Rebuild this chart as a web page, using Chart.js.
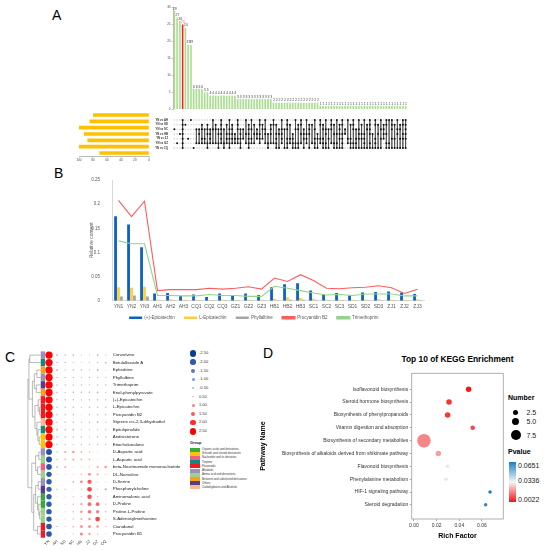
<!DOCTYPE html>
<html>
<head>
<meta charset="utf-8">
<title>Figure</title>
<script src="https://cdn.jsdelivr.net/npm/chart.js@4.4.1/dist/chart.umd.min.js"></script>
<style>
  body { margin: 0; background: #fff; font-family: "Liberation Sans", Arial, sans-serif; }
  #page { position: relative; width: 547px; height: 550px; overflow: hidden; }
  .box { position: absolute; }
  .txt { position: absolute; white-space: nowrap; line-height: 1; color: #222; }
  .letter { position: absolute; font-size: 14px; line-height: 1; color: #000; }
</style>
</head>
<body>
<div id="page">
  <div class="letter" style="left:52px;top:8px">A</div>
  <div class="letter" style="left:54px;top:166px">B</div>
  <div class="letter" style="left:5px;top:350px">C</div>
  <div class="letter" style="left:263px;top:346px">D</div>

  <div class="box" style="left:150px;top:0;width:260px;height:112px"><canvas id="upsetBars"></canvas></div>
  <div class="box" style="left:150px;top:111px;width:260px;height:46px"><canvas id="upsetMatrix"></canvas></div>
  <div class="box" style="left:75px;top:111px;width:77px;height:58px"><canvas id="setSizes"></canvas></div>
  <div class="box" style="left:88px;top:172px;width:345px;height:158px"><canvas id="content"></canvas></div>
  <div class="box" style="left:22px;top:345px;width:160px;height:205px"><canvas id="dots"></canvas></div>
  <div class="box" style="left:256px;top:365px;width:249px;height:180px"><canvas id="kegg"></canvas></div>
  <div class="txt" style="left:397px;top:355px;width:121px;text-align:center;font-size:8.4px;font-weight:bold;color:#000">Top 10 of KEGG Enrichment</div>
</div>

<script>
// ---- A: upset plot ----
var setNames = ['YN vs AH', 'YN vs SD', 'YN vs SC', 'YN vs HB', 'YN vs ZJ', 'YN vs GZ', 'YN vs CQ'];
var setSizes = [80, 85, 101, 93, 88, 100, 71];
var comboCounts = [29, 27, 26, 25, 24, 19, 19, 6, 6, 6, 6, 5, 5,
  4, 4, 4, 4, 4, 4, 4, 4, 4, 4,
  3, 3, 3, 3, 3, 3, 3, 3, 3, 3, 3, 3, 3,
  2, 2, 2, 2, 2, 2, 2, 2, 2, 2, 2, 2, 2, 2, 2, 2, 2,
  1, 1, 1, 1, 1, 1, 1, 1, 1, 1, 1, 1, 1, 1, 1, 1,
  1, 1, 1, 1, 1, 1, 1, 1, 1, 1, 1, 1, 1, 1, 1, 1];
// one string per bar, one character per set (AH SD SC HB ZJ GZ CQ)
var comboSets = ['0010000', '0000010', '0001000', '1111111', '0100000', '0000100', '1000000',
  '0000001', '0010010', '0011010', '0110110', '0010110', '0111011',
  '0011110', '1010010', '0110010', '0011011', '1111110', '0010011', '0101110', '1011111', '0111110', '0001110',
  '1110110', '0011111', '0010100', '1001010', '0111111', '1010110', '0101010', '0011100', '1101110', '0110100',
  '1011010', '0001011', '0111010',
  '1100010', '0101111', '0011001', '1011110', '0010001', '1110111', '0100110', '0001111', '1010011', '0110011',
  '1101010', '0011101', '1001110', '0111001', '0100010', '1010111', '0001101',
  '1100110', '0110111', '1011011', '0010101', '1110010', '0101011', '1001011', '0111101', '1101111', '0011000',
  '1000110', '0100111', '1110011', '0010111', '1011101', '0101101', '1001111', '0110001', '1111011', '0001001',
  '1100111', '0101001', '1010101', '0111100', '1101011', '1000011', '1110101', '0100101', '1011001', '0110101',
  '1101101', '1111101'];
var highlightCombo = 3;

// ---- B: relative content ----
var sampleNames = ['YN1', 'YN2', 'YN3', 'AH1', 'AH2', 'AH3', 'CQ1', 'CQ2', 'CQ3', 'GZ1', 'GZ2', 'GZ3',
  'HB1', 'HB2', 'HB3', 'SC1', 'SC2', 'SC3', 'SD1', 'SD2', 'SD3', 'ZJ1', 'ZJ2', 'ZJ3'];
var epicatechinPlus = [0.175, 0.158, 0.111, 0.015, 0.016, 0.010, 0.013, 0.008, 0.015, 0.012, 0.015, 0.012,
  0.028, 0.034, 0.036, 0.021, 0.013, 0.016, 0.011, 0.017, 0.018, 0.019, 0.017, 0.014];
var epicatechinL = [0.028, 0.027, 0.029, 0.002, 0.003, 0.002, 0.002, 0.001, 0.002, 0.001, 0.002, 0.002,
  0.004, 0.007, 0.006, 0.004, 0.002, 0.002, 0.002, 0.002, 0.003, 0.002, 0.002, 0.003];
var phyllalbine = [0.009, 0.011, 0.009, 0.001, 0.001, 0.001, 0.001, 0.001, 0.001, 0.001, 0.001, 0.001,
  0.001, 0.002, 0.002, 0.001, 0.001, 0.001, 0.001, 0.001, 0.001, 0.001, 0.001, 0.001];
var procyanidinB2 = [0.208, 0.174, 0.206, 0.021, 0.023, 0.023, 0.023, 0.026, 0.024, 0.026, 0.029, 0.024,
  0.047, 0.040, 0.054, 0.042, 0.026, 0.025, 0.027, 0.028, 0.031, 0.027, 0.015, 0.024];
var trimethoprim = [0.124, 0.118, 0.118, 0.011, 0.011, 0.010, 0.010, 0.013, 0.011, 0.011, 0.009, 0.009,
  0.030, 0.026, 0.021, 0.016, 0.012, 0.013, 0.011, 0.014, 0.014, 0.014, 0.010, 0.010];

// ---- C: z-score dot plot ----
var sampleGroups = ['YN', 'AH', 'SD', 'SC', 'HB', 'ZJ', 'GZ', 'CQ'];
var compoundNames = ['Convolvine', 'Betulalbuside A', 'Ephedrine', 'Phyllalbine', 'Trimethoprim',
  'Enol-phenylpyruvate', '(+)-Epicatechin', 'L-Epicatechin', 'Procyanidin B2', 'Styrene cis-2,3-dihydrodiol',
  'Epitulipinolide', 'Androsterone', 'Etiocholanolone', 'D-Aspartic acid', 'L-Aspartic acid',
  'beta-Nicotinamide mononucleotide', 'DL-Norvaline', 'D-Serine', 'Phosphorylcholine', 'Aminomalonic acid',
  'D-Proline', 'Proline.L-Proline', 'S-Adenosylmethionine', 'Cianidanol', 'Procyanidin B1'];
var compoundGroups = [5, 3, 7, 5, 8, 7, 4, 4, 4, 9, 3, 1, 1, 5, 6, 2, 6, 5, 8, 0, 0, 6, 6, 4, 4];
var zScores = [
  [2.8, -0.5, -0.4, -0.5, -0.3, -0.2, -0.5, -0.3],
  [2.8, -0.4, -0.4, -0.3, -0.2, -0.3, -0.4, -0.5],
  [2.8, -0.5, -0.3, -0.4, -0.4, -0.3, -0.5, -0.2],
  [2.8, -0.4, -0.4, -0.4, -0.3, -0.4, -0.4, -0.3],
  [2.8, -0.4, -0.4, -0.4, -0.4, -0.3, -0.4, -0.4],
  [2.8, -0.4, -0.3, -0.4, -0.4, -0.4, -0.5, -0.3],
  [2.8, -0.4, -0.4, -0.4, -0.3, -0.4, -0.4, -0.4],
  [2.8, -0.4, -0.4, -0.4, -0.3, -0.4, -0.4, -0.4],
  [2.8, -0.4, -0.4, -0.4, -0.2, -0.4, -0.4, -0.4],
  [2.8, -0.4, -0.4, -0.4, -0.3, -0.4, -0.5, -0.3],
  [2.8, -0.5, -0.4, -0.5, -0.3, -0.3, -0.3, -0.3],
  [2.8, -0.4, -0.4, -0.4, -0.4, -0.3, -0.4, -0.4],
  [2.8, -0.4, -0.4, -0.3, -0.4, -0.4, -0.4, -0.4],
  [-2.2, -0.4, 0.6, 0.8, 0.5, 0.4, 0.2, 0.1],
  [-2.2, -0.4, 0.5, 0.6, 0.5, 0.5, 0.2, 0.1],
  [-2.1, -0.5, 0.6, 0.2, 0.2, 0.3, 0.6, 0.8],
  [-2.0, 0.2, 0.2, 0.2, 0.4, 0.9, 0.6, 0.3],
  [-2.0, 0.1, 0.1, -0.5, 0.9, 1.5, 0.3, 0.2],
  [-1.9, -0.4, -0.3, 0.2, 0.3, 1.7, 0.3, 0.7],
  [-2.0, 0.2, 0.2, 0.3, 0.3, 1.6, 0.4, 0.2],
  [-2.0, 0.1, 0.2, 0.4, 0.7, 1.3, 1.3, 0.3],
  [-2.0, 0.1, 0.2, 0.4, 0.8, 1.2, 1.1, 0.4],
  [-2.0, 0.2, 0.3, 0.4, 0.6, 0.8, 1.7, 0.3],
  [-2.1, -0.4, 0.3, 0.5, 0.9, 0.9, 0.8, 0.4],
  [-2.1, 0.2, 0.2, 0.3, 1.0, 0.7, 0.4, 0.2]
];
// [left, right, merge height]; leaves are row indexes
var dendrogram = [
  [[0, 1, 8.5],
   [[[2, 3, 3], [4, 5, 3.5], 5], [[6, [7, 8, 1], 2], [9, [10, [11, 12, 1.2], 2.2], 3], 4.5], 6.5],
   9.2],
  [[[13, 14, 1.5], [15, 16, 2.5], 4],
   [[[17, 18, 2], [19, [20, [21, 22, 0.8], 1.5], 2.5], 4], [23, 24, 2.5], 5.5],
   7],
  10];
var groupNames = ['Organic acids and derivatives', 'Steroids and steroid derivatives', 'Nucleotide and its derivates',
  'Terpene', 'Flavonoids', 'Alkaloids', 'Amino acid and derivatives', 'Benzene and substituted derivatives',
  'Others', 'Carbohydrates and Alcohols'];
var groupColors = ['#3aa935', '#f7c600', '#ef5f86', '#11897c', '#ee1b24', '#9c90b9', '#9fd18b', '#f6a11c',
  '#5a3a8b', '#f8b98d'];
var zLegendValues = [-2.5, -2.0, -1.5, -1.0, -0.5, 0.5, 1.0, 1.5, 2.0, 2.5];

// ---- D: KEGG enrichment ----
var pathwayNames = ['Isoflavonoid biosynthesis', 'Steroid hormone biosynthesis', 'Biosynthesis of phenylpropanoids',
  'Vitamin digestion and absorption', 'Biosynthesis of secondary metabolites',
  'Biosynthesis of alkaloids derived from shikimate pathway', 'Flavonoid biosynthesis',
  'Phenylalanine metabolism', 'HIF-1 signaling pathway', 'Steroid degradation'];
var richFactor = [0.0482, 0.0309, 0.0297, 0.0518, 0.0088, 0.0215, 0.0297, 0.0282, 0.0671, 0.0632];
var hitNumber = [3, 3, 3, 2, 11, 3, 1, 1, 1, 1];
var pValue = [0.0025, 0.0065, 0.0070, 0.0090, 0.0180, 0.0215, 0.0310, 0.0370, 0.0650, 0.0625];
var richTicks = [0, 0.02, 0.04, 0.06];
var numberTicks = [2.5, 5.0, 7.5];
var pvalueTicks = [0.0651, 0.0336, 0.0022];

Chart.defaults.font.family = '"Liberation Sans", Arial, sans-serif';
Chart.defaults.color = '#333';
Chart.defaults.animation = false;
Chart.defaults.maintainAspectRatio = false;
Chart.defaults.plugins.legend.display = false;
Chart.defaults.plugins.tooltip.enabled = false;

function mix(a, b, t) {
  t = Math.max(0, Math.min(1, t));
  return 'rgb(' + a.map(function (c, k) { return Math.round(c + (b[k] - c) * t); }).join(',') + ')';
}
function dotColor(v) {
  var t = Math.min(Math.abs(v) / 2.5, 1);
  return v < 0 ? mix([205, 216, 238], [8, 60, 155], t) : mix([252, 214, 214], [255, 0, 0], t);
}
function dotRadius(v) { return 0.3 + 1.2 * Math.abs(v); }
function numberRadius(n) { return 1.25 + 0.5 * n; }
function pvalueColor(p) {
  var hi = pvalueTicks[0], mid = pvalueTicks[1], lo = pvalueTicks[2];
  if (p <= mid) return mix([250, 18, 18], [246, 246, 246], (p - lo) / (mid - lo));
  return mix([246, 246, 246], [28, 126, 196], (p - mid) / (hi - mid));
}

var barValueLabels = {
  id: 'barValueLabels',
  afterDatasetsDraw: function (chart) {
    var ctx = chart.ctx, meta = chart.getDatasetMeta(0);
    ctx.save();
    ctx.font = '3.5px "Liberation Sans", Arial';
    ctx.textAlign = 'center';
    ctx.textBaseline = 'bottom';
    meta.data.forEach(function (bar, i) {
      ctx.fillStyle = i === highlightCombo ? '#ff6f6f' : '#444';
      ctx.fillText(comboCounts[i], bar.x + 0.4, bar.y - 0.4);
    });
    ctx.restore();
  }
};

var upsetBars = new Chart(document.getElementById('upsetBars'), {
  type: 'bar',
  data: {
    labels: comboSets,
    datasets: [{
      data: comboCounts,
      backgroundColor: comboCounts.map(function (v, i) { return i === highlightCombo ? '#ff1a1a' : '#aadd90'; }),
      borderColor: comboCounts.map(function (v, i) { return i === highlightCombo ? '#e00000' : '#82c566'; }),
      borderWidth: 0.3,
      barPercentage: 0.75,
      categoryPercentage: 1
    }]
  },
  options: {
    layout: { autoPadding: false, padding: { top: 7.3, right: 3, bottom: 0.3, left: 0 } },
    scales: {
      x: { display: false },
      y: {
        min: 0, max: 30,
        ticks: { stepSize: 5, font: { size: 3 }, padding: 1, color: '#444' },
        grid: { drawOnChartArea: false, tickLength: 1.5, color: '#777', lineWidth: 0.4 },
        border: { color: '#777', width: 0.5 },
        afterFit: function (axis) { axis.width = 23; }
      }
    }
  },
  plugins: [barValueLabels]
});

var matrixGrid = [], matrixHits = [], matrixLinks = [];
comboSets.forEach(function (s, c) {
  var rows = [];
  for (var r = 0; r < setNames.length; r++) {
    matrixGrid.push({ x: c, y: r });
    if (s.charAt(r) === '1') { matrixHits.push({ x: c, y: r }); rows.push(r); }
  }
  if (rows.length > 1) {
    matrixLinks.push({ x: c, y: rows[0] }, { x: c, y: rows[rows.length - 1] }, { x: c, y: null });
  }
});

var upsetMatrix = new Chart(document.getElementById('upsetMatrix'), {
  type: 'scatter',
  data: {
    datasets: [
      { data: matrixHits, pointRadius: 1.0, backgroundColor: '#111', borderWidth: 0 },
      { type: 'line', data: matrixLinks, borderColor: '#333', borderWidth: 0.5, pointRadius: 0, spanGaps: false },
      { data: matrixGrid, pointRadius: 0.9, backgroundColor: '#dedede', borderWidth: 0 }
    ]
  },
  options: {
    layout: { autoPadding: false, padding: { top: 0.83, right: 3, bottom: 0.83, left: 0 } },
    scales: {
      x: { type: 'linear', min: -0.5, max: comboSets.length - 0.5, display: false },
      y: {
        type: 'linear', reverse: true, min: -0.5, max: setNames.length - 0.5,
        afterBuildTicks: function (axis) { axis.ticks = setNames.map(function (n, i) { return { value: i }; }); },
        ticks: { callback: function (v) { return setNames[v]; }, font: { size: 2.8, weight: 'bold' }, color: '#333', padding: 5, autoSkip: false },
        grid: { display: false, drawTicks: false },
        border: { display: false },
        afterFit: function (axis) { axis.width = 23; }
      }
    }
  }
});

var setSizeChart = new Chart(document.getElementById('setSizes'), {
  type: 'bar',
  data: {
    labels: setNames,
    datasets: [{ data: setSizes, backgroundColor: '#ffc000', barPercentage: 0.58, categoryPercentage: 1 }]
  },
  options: {
    indexAxis: 'y',
    layout: { autoPadding: false, padding: { top: 0.83, left: 4, right: 3, bottom: 0 } },
    scales: {
      y: { display: false },
      x: {
        reverse: true, min: 0, max: 100,
        ticks: { stepSize: 20, font: { size: 3 }, padding: 1, maxRotation: 0, color: '#444' },
        grid: { drawOnChartArea: false, tickLength: 1.5, color: '#777', lineWidth: 0.4 },
        border: { color: '#777', width: 0.5 },
        afterFit: function (axis) { axis.height = 12.84; }
      }
    }
  }
});

// ---- B ----
var contentChart = new Chart(document.getElementById('content'), {
  type: 'bar',
  data: {
    labels: sampleNames,
    datasets: [
      { label: '(+)-Epicatechin', data: epicatechinPlus, backgroundColor: '#0a62c2' },
      { label: 'L-Epicatechin', data: epicatechinL, backgroundColor: '#ffcd3c' },
      { label: 'Phyllalbine', data: phyllalbine, backgroundColor: '#a5a5a5' },
      { type: 'line', label: 'Procyanidin B2', data: procyanidinB2, borderColor: '#ff5d5d', backgroundColor: '#ff5d5d',
        borderWidth: 1.1, pointRadius: 0, order: -1 },
      { type: 'line', label: 'Trimethoprim', data: trimethoprim, borderColor: '#93d38e', backgroundColor: '#93d38e',
        borderWidth: 1.1, pointRadius: 0, order: -1 }
    ]
  },
  options: {
    layout: { autoPadding: false, padding: { top: 8, right: 9, bottom: 0, left: 0 } },
    datasets: { bar: { categoryPercentage: 0.68, barPercentage: 0.95 } },
    plugins: {
      legend: {
        display: true, position: 'bottom',
        labels: {
          boxWidth: 13, boxHeight: 2.5, font: { size: 4.5 }, color: '#595959', padding: 4.75,
          generateLabels: function (chart) {
            return Chart.defaults.plugins.legend.labels.generateLabels(chart).map(function (item) {
              item.text = item.text + '\u2003';
              return item;
            });
          },
          sort: function (a, b) { return a.datasetIndex - b.datasetIndex; }
        }
      }
    },
    scales: {
      x: {
        display: true,
        grid: { display: false, drawTicks: false },
        border: { display: true, color: '#d9d9d9' },
        ticks: { display: true, font: { size: 5 }, color: '#595959', padding: 3, minRotation: 0, maxRotation: 0, autoSkip: false },
        afterFit: function (axis) { axis.height = 10; }
      },
      y: {
        min: 0, max: 0.25,
        ticks: {
          stepSize: 0.05, font: { size: 4.5 }, color: '#595959', padding: 4,
          callback: function (v) { return v === 0 ? '0' : String(+v.toFixed(2)); }
        },
        grid: { display: false },
        border: { color: '#d9d9d9' },
        title: { display: true, text: 'Relative content', font: { size: 5 }, color: '#595959', padding: { top: 1, bottom: 0 } },
        afterFit: function (axis) { axis.width = 24; }
      }
    }
  }
});

// ---- C ----
var dotCells = [];
zScores.forEach(function (row, r) {
  row.forEach(function (v, c) { dotCells.push({ x: c, y: r, v: v }); });
});

var heatDecor = {
  id: 'heatDecor',
  beforeDatasetsDraw: function (chart) {
    var xs = chart.scales.x, ys = chart.scales.y, ctx = chart.ctx;
    var leafX = -1.02;
    ctx.save();
    compoundGroups.forEach(function (g, r) {
      var y0 = ys.getPixelForValue(r - 0.5), y1 = ys.getPixelForValue(r + 0.5);
      var x0 = xs.getPixelForValue(leafX), x1 = xs.getPixelForValue(-0.49);
      ctx.fillStyle = groupColors[g];
      ctx.fillRect(x0, Math.min(y0, y1), x1 - x0, Math.abs(y1 - y0));
    });
    ctx.strokeStyle = '#8a8a8a';
    ctx.lineWidth = 0.6;
    function walk(node) {
      if (typeof node === 'number') return { x: leafX, y: node };
      var a = walk(node[0]), b = walk(node[1]);
      var h = leafX - node[2] * 0.158;
      var px = xs.getPixelForValue(h);
      ctx.beginPath();
      ctx.moveTo(xs.getPixelForValue(a.x), ys.getPixelForValue(a.y));
      ctx.lineTo(px, ys.getPixelForValue(a.y));
      ctx.lineTo(px, ys.getPixelForValue(b.y));
      ctx.lineTo(xs.getPixelForValue(b.x), ys.getPixelForValue(b.y));
      ctx.stroke();
      return { x: h, y: (a.y + b.y) / 2 };
    }
    walk(dendrogram);
    ctx.restore();
  }
};

var dotChart = new Chart(document.getElementById('dots'), {
  type: 'scatter',
  data: {
    datasets: [{
      data: dotCells,
      pointRadius: function (c) { return c.raw ? dotRadius(c.raw.v) : 0; },
      backgroundColor: function (c) { return c.raw ? dotColor(c.raw.v) : '#fff'; },
      borderWidth: 0
    }]
  },
  options: {
    layout: { autoPadding: false, padding: { top: 4.5, right: 0, bottom: 0, left: 0 } },
    scales: {
      x: {
        type: 'linear', min: -3.333, max: 7.5,
        afterBuildTicks: function (axis) { axis.ticks = sampleGroups.map(function (g, i) { return { value: i }; }); },
        ticks: { callback: function (v) { return sampleGroups[v]; }, font: { size: 4 }, color: '#333',
          minRotation: 45, maxRotation: 45, padding: 1, autoSkip: false },
        grid: { display: false, drawTicks: false },
        border: { display: false },
        afterFit: function (axis) { axis.height = 11.9; }
      },
      y: {
        type: 'linear', position: 'right', reverse: true, min: -0.6, max: 24.55,
        afterBuildTicks: function (axis) { axis.ticks = compoundNames.map(function (n, i) { return { value: i }; }); },
        ticks: { callback: function (v) { return compoundNames[v]; }, font: { size: 4.4 }, color: '#222', padding: 3, autoSkip: false },
        grid: { display: false, drawTicks: false },
        border: { display: false },
        afterFit: function (axis) { axis.width = 72.25; }
      }
    }
  },
  plugins: [heatDecor]
});

// ---- D ----
var panelFrame = {
  id: 'panelFrame',
  afterDraw: function (chart) {
    var a = chart.chartArea, ctx = chart.ctx;
    ctx.save();
    ctx.strokeStyle = '#a8a8a8';
    ctx.lineWidth = 0.9;
    ctx.strokeRect(a.left, a.top, a.right - a.left, a.bottom - a.top);
    ctx.restore();
  }
};

var keggChart = new Chart(document.getElementById('kegg'), {
  type: 'scatter',
  data: {
    datasets: [{
      data: pathwayNames.map(function (n, i) { return { x: richFactor[i], y: i }; }),
      pointRadius: function (c) { return numberRadius(hitNumber[c.dataIndex]); },
      backgroundColor: function (c) { return pvalueColor(pValue[c.dataIndex]); },
      borderWidth: 0
    }]
  },
  options: {
    layout: { autoPadding: false, padding: { top: 8.3, right: 1.7, bottom: 0, left: 0 } },
    scales: {
      x: {
        type: 'linear', min: -0.002, max: 0.0788,
        afterBuildTicks: function (axis) { axis.ticks = richTicks.map(function (v) { return { value: v }; }); },
        ticks: { callback: function (v) { return v.toFixed(2); }, font: { size: 5 }, color: '#333', padding: 1.5, maxRotation: 0 },
        grid: { drawOnChartArea: false, tickLength: 2, color: '#555', lineWidth: 0.5 },
        border: { display: false },
        title: { display: true, text: 'Rich Factor', font: { size: 7, weight: 'bold' }, color: '#000', padding: { top: 0, bottom: 5.1 } },
        afterFit: function (axis) { axis.height = 26; }
      },
      y: {
        type: 'linear', reverse: true, min: -1.24, max: 10.1,
        afterBuildTicks: function (axis) { axis.ticks = pathwayNames.map(function (n, i) { return { value: i }; }); },
        ticks: { callback: function (v) { return pathwayNames[v]; }, font: { size: 5 }, color: '#333', padding: 1.5, autoSkip: false },
        grid: { drawOnChartArea: false, tickLength: 2, color: '#555', lineWidth: 0.5 },
        border: { display: false },
        title: { display: true, text: 'Pathway Name', font: { size: 7, weight: 'bold' }, color: '#000', padding: { top: 2.8, bottom: 0 } },
        afterFit: function (axis) { axis.width = 155.7; }
      }
    }
  },
  plugins: [panelFrame]
});

// ---- legends (HTML) ----
var page = document.getElementById('page');
function addText(text, left, top, size, extra) {
  var d = document.createElement('div');
  d.className = 'txt';
  d.textContent = text;
  d.style.left = left + 'px';
  d.style.top = top + 'px';
  d.style.fontSize = size + 'px';
  if (extra) Object.keys(extra).forEach(function (k) { d.style[k] = extra[k]; });
  page.appendChild(d);
  return d;
}
function addBlock(left, top, w, h, style) {
  var d = document.createElement('div');
  d.style.position = 'absolute';
  d.style.left = left + 'px';
  d.style.top = top + 'px';
  d.style.width = w + 'px';
  d.style.height = h + 'px';
  Object.keys(style).forEach(function (k) { d.style[k] = style[k]; });
  page.appendChild(d);
  return d;
}

zLegendValues.forEach(function (v, i) {
  var cy = 353.3 + 8.66 * i, r = dotRadius(v);
  addBlock(193 - r, cy - r, 2 * r, 2 * r, { borderRadius: '50%', background: dotColor(v) });
  addText(v.toFixed(2), 199, cy - 2.1, 4, { color: '#333' });
});
addText('Group', 190, 441.8, 3.8, { fontWeight: 'bold', color: '#222' });
groupNames.forEach(function (g, i) {
  var cy = 449.5 + 4.22 * i;
  addBlock(190, cy - 2, 10, 4, { background: groupColors[i] });
  addText(g, 202, cy - 1.5, 2.8, { color: '#333' });
});

addText('Number', 508, 393.5, 7, { fontWeight: 'bold', color: '#000' });
var numberY = [412, 421.7, 435];
numberTicks.forEach(function (n, i) {
  var r = numberRadius(n);
  addBlock(515.7 - r, numberY[i] - r, 2 * r, 2 * r, { borderRadius: '50%', background: '#000' });
  addText(n.toFixed(1), 526.5, numberY[i] - 3.5, 7, { color: '#222' });
});
addText('Pvalue', 508, 448.2, 7, { fontWeight: 'bold', color: '#000' });
addBlock(509, 461.5, 6.7, 40, {
  background: 'linear-gradient(to bottom, ' + pvalueColor(pvalueTicks[0]) + ', ' + pvalueColor(pvalueTicks[1]) + ', ' + pvalueColor(pvalueTicks[2]) + ')'
});
var pvalueY = [465, 480.7, 499.5];
pvalueTicks.forEach(function (p, i) {
  addText(p.toFixed(4), 518, pvalueY[i] - 3.5, 7, { color: '#222' });
});
</script>
</body>
</html>
